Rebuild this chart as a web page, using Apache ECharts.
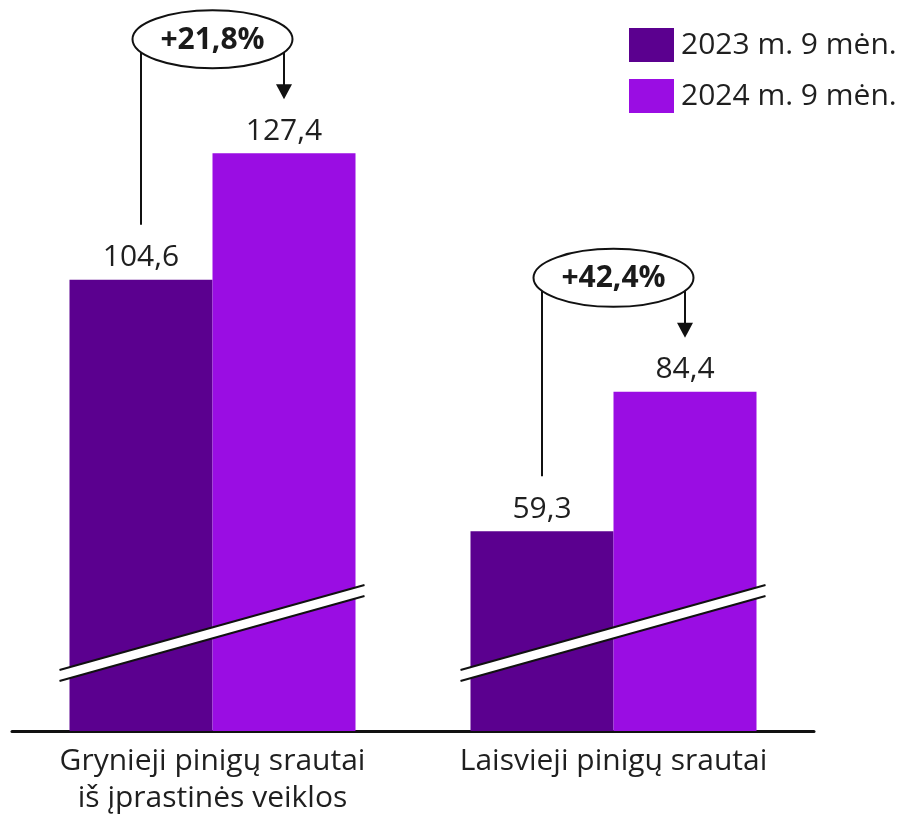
<!DOCTYPE html>
<html>
<head>
<meta charset="utf-8">
<script src="https://cdn.jsdelivr.net/npm/echarts@6/dist/echarts.min.js"></script>
<style>
  html, body { margin: 0; padding: 0; background: #fff; }
  #main { width: 905px; height: 818px; }
</style>
</head>
<body>
<div id="main"></div>
<script>
// duomenys
var categories = ['Grynieji pinigų srautai\niš įprastinės veiklos', 'Laisvieji pinigų srautai'];
var seriesNames = ['2023 m. 9 mėn.', '2024 m. 9 mėn.'];
var values2023 = [104.6, 59.3];
var values2024 = [127.4, 84.4];
var changeLabels = ['+21,8%', '+42,4%'];

var FONT = 'Open Sans';
var darkColor = '#5b008f';
var lightColor = '#9a0de3';
var barW = 143;

var myChart = echarts.init(document.getElementById('main'));

function fmt(p) {
    return String(p.value).replace('.', ',');
}

var option = {
    animation: false,
    textStyle: { fontFamily: FONT },
    legend: {
        orient: 'vertical',
        left: 624,
        top: 23,
        itemWidth: 45,
        itemHeight: 34,
        itemGap: 17,
        icon: 'rect',
        data: seriesNames,
        textStyle: { fontFamily: FONT, fontSize: 30, color: '#1f1f1f', padding: [0, 0, 0, 2] }
    },
    grid: { left: 12, width: 802, top: 20, bottom: 87, containLabel: false },
    xAxis: {
        type: 'category',
        data: categories,
        axisLine: { lineStyle: { color: '#111', width: 3 } },
        axisTick: { show: false },
        axisLabel: {
            fontFamily: FONT, fontSize: 30, color: '#1f1f1f',
            lineHeight: 37, margin: 12, interval: 0
        }
    },
    yAxis: {
        type: 'value',
        min: 23.3,
        max: 151.4,
        show: false,
        splitLine: { show: false }
    },
    series: [
        {
            name: seriesNames[0], type: 'bar', data: values2023,
            barWidth: barW, barGap: '0%',
            itemStyle: { color: darkColor },
            label: { show: true, position: 'top', distance: 7, formatter: fmt,
                     fontFamily: FONT, fontSize: 30, color: '#1f1f1f' }
        },
        {
            name: seriesNames[1], type: 'bar', data: values2024,
            barWidth: barW,
            itemStyle: { color: lightColor },
            label: { show: true, position: 'top', distance: 7, formatter: fmt,
                     fontFamily: FONT, fontSize: 30, color: '#1f1f1f' }
        }
    ]
};

myChart.setOption(option);

// lūžio juostos ir pokyčio anotacijos
var graphics = [];
var base = myChart.convertToPixel({ yAxisIndex: 0 }, option.yAxis.min);
categories.forEach(function (c, i) {
    var cx = myChart.convertToPixel({ xAxisIndex: 0 }, i);
    // lūžis
    var x1 = cx - 153, x2 = cx + 152;
    var yl = base - 61, yr = base - 146, t = 11;
    graphics.push({
        type: 'polygon', z: 100,
        shape: { points: [[x1, yl], [x2, yr], [x2, yr + t], [x1, yl + t]] },
        style: { fill: '#fff' }
    });
    graphics.push({ type: 'line', z: 101, shape: { x1: x1, y1: yl, x2: x2, y2: yr }, style: { stroke: '#111', lineWidth: 2 } });
    graphics.push({ type: 'line', z: 101, shape: { x1: x1, y1: yl + t, x2: x2, y2: yr + t }, style: { stroke: '#111', lineWidth: 2 } });

    // anotacija
    var topOld = myChart.convertToPixel({ yAxisIndex: 0 }, values2023[i]);
    var topNew = myChart.convertToPixel({ yAxisIndex: 0 }, values2024[i]);
    var ex = cx, ey = topNew - 114, rx = 80, ry = 29;
    var dx = barW / 2;
    var edge = ey + ry * Math.sqrt(1 - (dx / rx) * (dx / rx));
    var lx = cx - dx, ax = cx + dx;
    var tip = topNew - 54;
    graphics.push({
        type: 'ellipse', z: 110,
        shape: { cx: ex, cy: ey, rx: rx, ry: ry },
        style: { fill: '#fff', stroke: '#111', lineWidth: 2 }
    });
    graphics.push({
        type: 'text', z: 111, x: ex, y: ey + 1,
        style: { text: changeLabels[i], fontFamily: FONT, fontWeight: 'bold', fontSize: 30,
                 fill: '#1a1a1a', align: 'center', verticalAlign: 'middle' }
    });
    graphics.push({ type: 'line', z: 105, shape: { x1: lx, y1: edge, x2: lx, y2: topOld - 55 }, style: { stroke: '#111', lineWidth: 2 } });
    graphics.push({ type: 'line', z: 105, shape: { x1: ax, y1: edge, x2: ax, y2: tip - 12 }, style: { stroke: '#111', lineWidth: 2 } });
    graphics.push({
        type: 'polygon', z: 105,
        shape: { points: [[ax - 8, tip - 15], [ax + 8, tip - 15], [ax, tip]] },
        style: { fill: '#111' }
    });
});
myChart.setOption({ graphic: graphics });
</script>
</body>
</html>
